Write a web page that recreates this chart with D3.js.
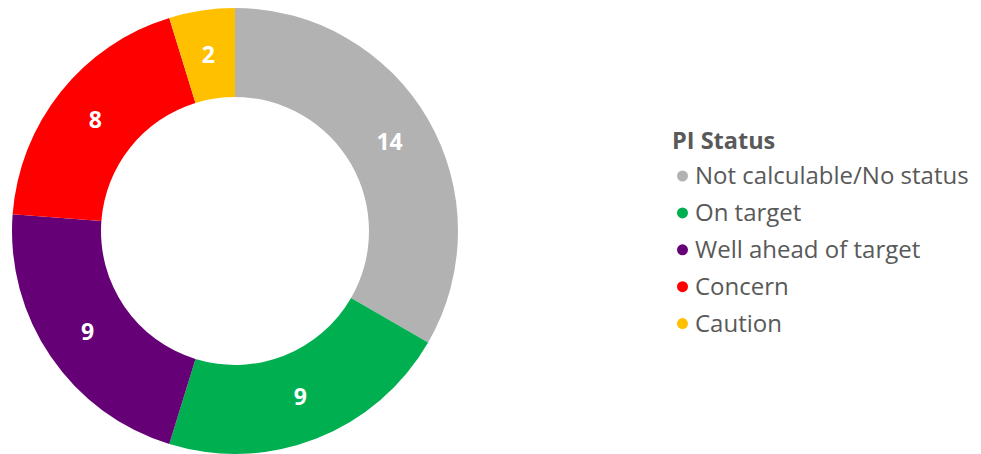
<!DOCTYPE html>
<html>
<head>
<meta charset="utf-8">
<script src="https://cdn.jsdelivr.net/npm/d3@7"></script>
<style>
  body { margin: 0; background: #fff; }
  svg { display: block; font-family: "Open Sans", "Noto Sans", sans-serif; }
</style>
</head>
<body>
<div class="vis"></div>
<script>
var w = 981;
var h = 454;

// Data
var statuses = ["Not calculable/No status", "On target", "Well ahead of target", "Concern", "Caution"];
var counts = [14, 9, 9, 8, 2];
var colours = ["#b2b2b2", "#00b050", "#660077", "#ff0000", "#ffc000"];

var cx = 235, cy = 231;
var outerR = 223, innerR = 134;

var svg = d3.select(".vis")
    .append("svg")
    .attr("width", w)
    .attr("height", h);

var color = d3.scaleOrdinal()
    .domain(statuses)
    .range(colours);

var pie = d3.pie()
    .sort(null)
    .value(d => d.value);

var arc = d3.arc()
    .innerRadius(innerR)
    .outerRadius(outerR);

var data = statuses.map((s, i) => ({ name: s, value: counts[i] }));

var g = svg.append("g")
    .attr("transform", "translate(" + cx + "," + cy + ")");

var slices = g.selectAll("g.slice")
    .data(pie(data))
    .enter()
    .append("g")
    .attr("class", "slice");

slices.append("path")
    .attr("d", arc)
    .attr("fill", d => color(d.data.name));

// value labels
slices.append("text")
    .attr("transform", d => "translate(" + arc.centroid(d) + ")")
    .attr("text-anchor", "middle")
    .attr("dy", "0.35em")
    .attr("fill", "#fff")
    .attr("font-weight", "bold")
    .attr("font-size", 23)
    .text(d => d.data.value);

// Legend
var legend = svg.append("g")
    .attr("transform", "translate(672,0)");

legend.append("text")
    .attr("x", 0)
    .attr("y", 149)
    .attr("fill", "#595959")
    .attr("font-weight", "bold")
    .attr("font-size", 23.5)
    .text("PI Status");

var items = legend.selectAll("g.item")
    .data(statuses)
    .enter()
    .append("g")
    .attr("class", "item")
    .attr("transform", (d, i) => "translate(0," + (176 + i * 36.9) + ")");

items.append("circle")
    .attr("cx", 10.5)
    .attr("cy", 0)
    .attr("r", 5.5)
    .attr("fill", d => color(d));

items.append("text")
    .attr("x", 23)
    .attr("y", 0)
    .attr("dy", "0.35em")
    .attr("fill", "#595959")
    .attr("font-size", 24)
    .text(d => d);
</script>
</body>
</html>
